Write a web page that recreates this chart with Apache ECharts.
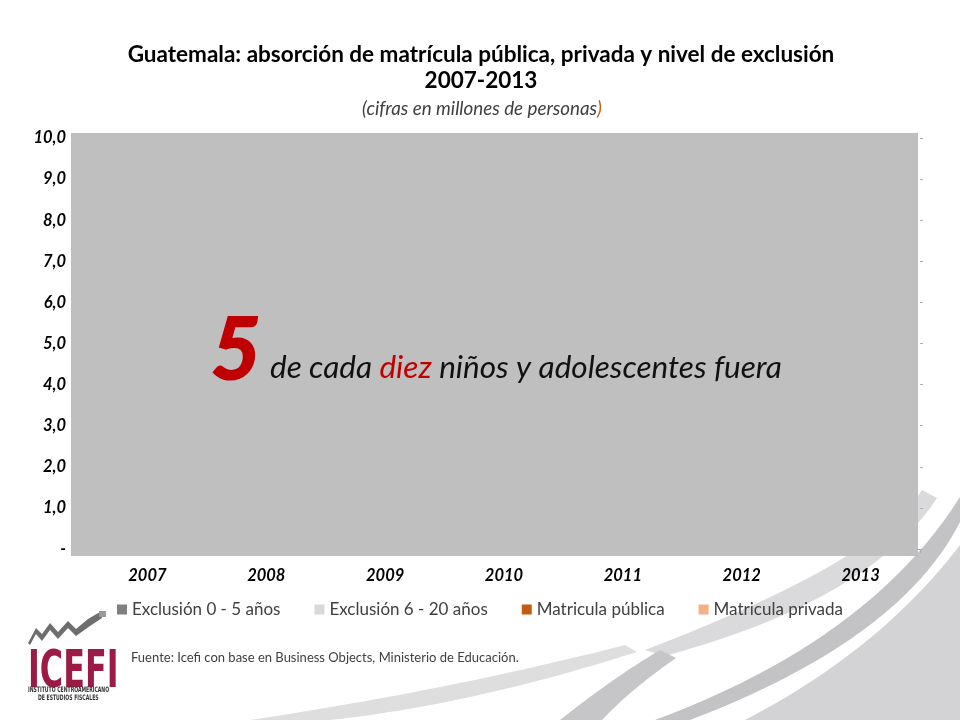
<!DOCTYPE html>
<html>
<head>
<meta charset="utf-8">
<script src="https://cdn.jsdelivr.net/npm/echarts@6/dist/echarts.min.js"></script>
<style>html,body{margin:0;padding:0;background:#fff;}#c{width:960px;height:720px;}</style>
</head>
<body>
<div id="c"></div>
<script>
// Categories and tick labels
var years = ['2007', '2008', '2009', '2010', '2011', '2012', '2013'];
var yTickLabels = ['-', '1,0', '2,0', '3,0', '4,0', '5,0', '6,0', '7,0', '8,0', '9,0', '10,0'];
var seriesNames = ['Exclusión 0 - 5 años', 'Exclusión 6 - 20 años', 'Matricula pública', 'Matricula privada'];
// Bars are hidden under the grey overlay in the reference: values cannot be read
var exclusion05 = [null, null, null, null, null, null, null];
var exclusion620 = [null, null, null, null, null, null, null];
var matriculaPublica = [null, null, null, null, null, null, null];
var matriculaPrivada = [null, null, null, null, null, null, null];

var colors = ['#7f7f7f', '#d9d9d9', '#c55a11', '#f4b183'];
var FONT = 'Lato, "Open Sans", sans-serif';
var NARROW = '"Liberation Sans Narrow", "DejaVu Sans Condensed", sans-serif';

// decorative swoosh helper: sample quadratic curves into polygon points
function quad(p0, c, p1, n) {
  var pts = [];
  for (var i = 0; i <= n; i++) {
    var t = i / n, u = 1 - t;
    pts.push([u * u * p0[0] + 2 * u * t * c[0] + t * t * p1[0], u * u * p0[1] + 2 * u * t * c[1] + t * t * p1[1]]);
  }
  return pts;
}
function band(a0, ac, a1, b0, bc, b1) {
  return quad(a0, ac, a1, 24).concat(quad(b0, bc, b1, 24));
}

var chart = echarts.init(document.getElementById('c'));
var dataSets = [exclusion05, exclusion620, matriculaPublica, matriculaPrivada];

var option = {
  animation: false,
  backgroundColor: '#ffffff',
  color: colors,
  title: [{
    text: 'Guatemala: absorción de matrícula pública, privada y nivel de exclusión\n2007-2013',
    left: 476, top: 37, textAlign: 'center',
    textStyle: { fontFamily: FONT, fontSize: 22.5, fontWeight: 'bold', color: '#000', lineHeight: 26 }
  }, {
    text: '{a|(cifras en millones de personas}{b|)}',
    left: 477, top: 94, textAlign: 'center',
    textStyle: {
      fontWeight: 'normal',
      rich: {
        a: { fontFamily: FONT, fontSize: 18.8, fontStyle: 'italic', fontWeight: 'normal', color: '#404040' },
        b: { fontFamily: FONT, fontSize: 18.8, fontStyle: 'italic', fontWeight: 'normal', color: '#c55a11' }
      }
    }
  }],
  legend: {
    data: seriesNames,
    left: 'center', top: 596,
    itemWidth: 10, itemHeight: 10, itemGap: 34,
    icon: 'rect',
    textStyle: { fontFamily: FONT, fontSize: 17, color: '#404040' }
  },
  grid: { left: 88, right: 40, top: 138, bottom: 171, containLabel: false },
  xAxis: {
    type: 'category', data: years,
    axisLine: { show: true, lineStyle: { color: '#aaaaaa' } },
    axisTick: { show: true, length: 4, lineStyle: { color: '#aaaaaa' } },
    axisLabel: { fontFamily: FONT, fontSize: 16.5, fontWeight: 'bold', fontStyle: 'italic', color: '#000', margin: 18 }
  },
  yAxis: [{
    type: 'value', min: 0, max: 10, interval: 1,
    axisLine: { show: false },
    axisTick: { show: false },
    splitLine: { show: false },
    axisLabel: {
      fontFamily: FONT, fontSize: 16.5, fontWeight: 'bold', fontStyle: 'italic', color: '#000', margin: 22,
      formatter: function (v) { return yTickLabels[Math.round(v)]; }
    }
  }, {
    type: 'value', min: 0, max: 10, interval: 1, position: 'right',
    axisLine: { show: false },
    axisTick: { show: true, length: 3, lineStyle: { color: '#b0b0b0' } },
    splitLine: { show: false },
    axisLabel: { show: false }
  }],
  series: seriesNames.map(function (n, i) {
    return { name: n, type: 'bar', stack: 'total', data: dataSets[i], itemStyle: { color: colors[i] }, barWidth: '60%' };
  }),
  graphic: [
    // decorative background swooshes
    { type: 'polygon', z: -10, shape: { points: quad([960, 545], [880, 650], [745, 720], 24).concat([[960, 720]]) }, style: { fill: '#d3d3d5' } },
    { type: 'polygon', z: -10, shape: { points: band([960, 497], [870, 640], [655, 720], [690, 720], [900, 640], [960, 522]) }, style: { fill: '#c3c3c5' } },
    { type: 'polygon', z: -10, shape: { points: band([922, 490], [880, 560], [645, 650], [665, 656], [870, 600], [937, 498]) }, style: { fill: '#dadadc' } },
    { type: 'polygon', z: -10, shape: { points: band([560, 720], [610, 680], [660, 650], [676, 658], [630, 690], [602, 720]) }, style: { fill: '#c6c6c8' } },
    { type: 'polygon', z: -10, shape: { points: band([250, 720], [450, 690], [625, 645], [637, 652], [470, 705], [330, 720]) }, style: { fill: '#dedede' } },
    // grey overlay over plot
    { type: 'rect', z: 100, shape: { x: 71, y: 133, width: 847, height: 423 }, style: { fill: '#bfbfbf' } },
    { type: 'text', z: 101, left: 210, top: 307,
      style: { text: '5', fontFamily: FONT, fontSize: 86, fontWeight: 'bold', fontStyle: 'italic', fill: '#c00000', stroke: '#c00000', lineWidth: 2 } },
    { type: 'text', z: 101, left: 270, top: 352,
      style: {
        text: '{b|de cada }{c|diez}{b| niños y adolescentes fuera}',
        rich: {
          b: { fontFamily: FONT, fontSize: 31.5, fontStyle: 'italic', fill: '#111' },
          c: { fontFamily: FONT, fontSize: 31.5, fontStyle: 'italic', fill: '#c00000' }
        }
      } },
    // source
    { type: 'text', left: 131, top: 651,
      style: { text: 'Fuente: Icefi con base en Business Objects, Ministerio de Educación.', fontFamily: FONT, fontSize: 13, fill: '#404040' } },
    // logo
    { type: 'polygon', shape: { points: [[28, 643], [36, 628], [42, 634], [50, 623], [58, 632], [68, 621], [76, 629], [88, 619], [100, 612], [102, 618], [90, 626], [76, 636], [68, 628], [58, 639], [50, 630], [42, 641], [36, 634], [30, 645]] },
      style: { fill: '#6e6e6e' } },
    { type: 'rect', shape: { x: 99, y: 611, width: 7, height: 6 }, style: { fill: '#9a9a9a' } },
    { type: 'text', left: 28, top: 647, scaleX: 0.68,
      style: { text: 'ICEFI', fontFamily: NARROW, fontSize: 52, fontWeight: 'bold', fill: '#9b1b45' } },
    { type: 'text', left: 28, top: 686, scaleX: 0.68,
      style: { text: 'INSTITUTO CENTROAMERICANO', fontFamily: NARROW, fontSize: 7.5, fontWeight: 'bold', fill: '#333' } },
    { type: 'text', left: 38, top: 694, scaleX: 0.68,
      style: { text: 'DE ESTUDIOS FISCALES', fontFamily: NARROW, fontSize: 7.5, fontWeight: 'bold', fill: '#333' } }
  ]
};
chart.setOption(option);
</script>
</body>
</html>
